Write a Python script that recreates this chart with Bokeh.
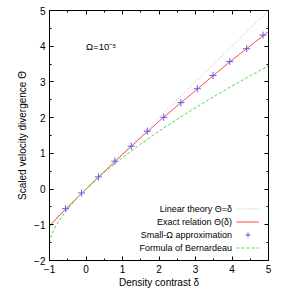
from bokeh.plotting import figure
from bokeh.models import (LinearAxis, Range1d, Label, Legend, LegendItem,
                          SingleIntervalTicker)
from bokeh.embed import file_html
from bokeh.resources import INLINE

# ---- data ----
lin_delta = [-1.0, 5.0]
lin_theta = [-1.0, 5.0]

exact_delta = [-1.0, -0.95, -0.9, -0.8, -0.6, -0.4, -0.2, 0.0, 0.5, 1.0, 1.5,
               2.0, 2.5, 3.0, 3.5, 4.0, 4.5, 5.0]
exact_theta = [-1.04, -0.985, -0.93, -0.82, -0.605, -0.40, -0.20, 0.0, 0.49,
               0.97, 1.44, 1.90, 2.33, 2.76, 3.19, 3.61, 4.01, 4.41]

small_delta = [-0.56, -0.12, 0.34, 0.79, 1.24, 1.68, 2.13, 2.60, 3.05, 3.48,
               3.94, 4.40, 4.85]
small_theta = [-0.55, -0.11, 0.34, 0.78, 1.20, 1.62, 2.01, 2.42, 2.81, 3.18,
               3.57, 3.93, 4.31]

bern_delta = [-1.0, -0.99, -0.95, -0.9, -0.8, -0.6, -0.4, -0.2, 0.0, 0.5, 1.0,
              1.5, 2.0, 2.5, 3.0, 3.5, 4.0, 4.5, 5.0]
bern_theta = [-1.5, -1.43, -1.296, -1.177, -0.987, -0.686, -0.433, -0.207, 0.0,
              0.466, 0.881, 1.263, 1.620, 1.957, 2.280, 2.589, 2.886, 3.174,
              3.453]

legend_labels = ["Linear theory \u0398=\u03b4", "Exact relation \u0398(\u03b4)",
                 "Small-\u03a9 approximation", "Formula of Bernardeau"]

FONT = "Liberation Sans"

p = figure(width=299, height=290, output_backend="svg", toolbar_location=None,
           x_range=Range1d(-1, 5), y_range=Range1d(-2, 5),
           min_border_left=49, min_border_right=31, min_border_top=10,
           min_border_bottom=26)
p.grid.visible = False
p.outline_line_color = "black"
p.outline_line_width = 1
p.background_fill_color = "white"
p.border_fill_color = "white"


def style_axis(ax, ticker, show_labels=True):
    ax.ticker = ticker
    ax.major_tick_in = 4
    ax.major_tick_out = 0
    ax.minor_tick_in = 2
    ax.minor_tick_out = 0
    ax.axis_line_color = "black"
    ax.major_tick_line_color = "black"
    ax.minor_tick_line_color = "black"
    ax.major_label_text_font = FONT
    ax.axis_label_text_font = FONT
    ax.axis_label_text_font_style = "normal"
    ax.axis_label_text_font_size = "10px"
    ax.axis_label_text_color = "black"
    if show_labels:
        ax.major_label_text_color = "black"
        ax.major_label_text_font_size = "10px"
        ax.major_label_standoff = 4
    else:
        ax.major_label_text_color = None
        ax.major_label_text_font_size = "1px"
        ax.major_label_standoff = 0


xt = SingleIntervalTicker(interval=1, num_minor_ticks=2)
yt = SingleIntervalTicker(interval=1, num_minor_ticks=2)

style_axis(p.xaxis[0], xt)
style_axis(p.yaxis[0], yt)
p.xaxis[0].axis_label = "Density contrast \u03b4"
p.yaxis[0].axis_label = "Scaled velocity divergence \u0398"
p.xaxis[0].axis_label_standoff = 1
p.yaxis[0].axis_label_standoff = 3

top_ax = LinearAxis()
style_axis(top_ax, SingleIntervalTicker(interval=1, num_minor_ticks=2), False)
right_ax = LinearAxis()
style_axis(right_ax, SingleIntervalTicker(interval=1, num_minor_ticks=2), False)
p.add_layout(top_ax, "above")
p.add_layout(right_ax, "right")

r_lin = p.line(lin_delta, lin_theta, line_color="#b4b4b4", line_width=1,
               line_dash="1 2")
r_exact = p.line(exact_delta, exact_theta, line_color="#ff4a4a", line_width=1)
r_small = p.scatter(small_delta, small_theta, marker="cross", size=7,
                    line_color="#5a5aff", line_width=1)
r_bern = p.line(bern_delta, bern_theta, line_color="#44e044", line_width=1,
                line_dash="3 2")

# Legend: samples on the right, text right-aligned to their left
legend = Legend(items=[LegendItem(label=" ", renderers=[r]) for r in
                       (r_lin, r_exact, r_small, r_bern)],
                location=(187, 6), padding=0, margin=0, spacing=0,
                glyph_width=23, glyph_height=13, label_height=13,
                label_width=1, label_standoff=0,
                border_line_color=None, background_fill_alpha=0,
                label_text_font_size="1px", label_text_alpha=0)
p.add_layout(legend)

row_y = [-0.56, -0.92, -1.29, -1.66]
for txt, yv in zip(legend_labels, row_y):
    p.add_layout(Label(x=4.0, y=yv, text=txt, text_align="right",
                       text_baseline="middle", text_font=FONT,
                       text_font_size="9px", text_color="black"))

p.add_layout(Label(x=0.0, y=4.0, text="\u03a9=10\u207b\u2075",
                   text_align="left", text_baseline="middle",
                   text_font=FONT, text_font_size="9.5px", text_color="black"))

open("out.html", "w").write(file_html(p, INLINE))
